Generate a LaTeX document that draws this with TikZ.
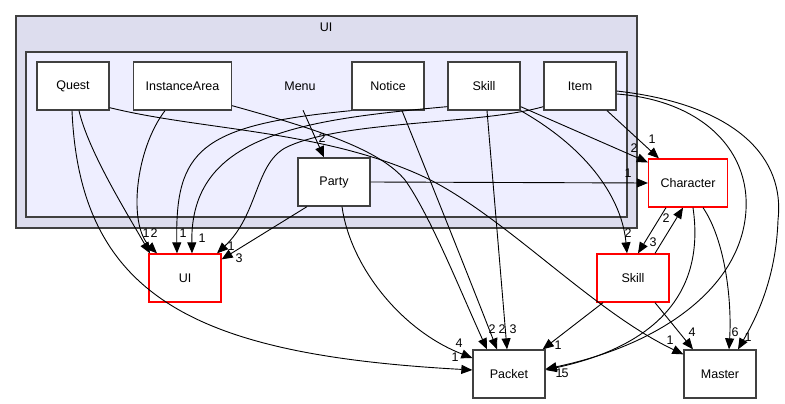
\documentclass[tikz,border=0pt]{standalone}
\usepackage{fontspec}
\setmainfont{Liberation Sans}
\usepackage{xcolor}
\usepackage{tikz}
\usetikzlibrary{arrows.meta, positioning, calc}

\definecolor{outerfill}{HTML}{DDDDEE}
\definecolor{innerfill}{HTML}{EEEEFF}
\definecolor{boxgray}{HTML}{404040}

\begin{document}
\begin{tikzpicture}[x=1pt, y=-1pt,
    font=\fontsize{12.5}{14}\selectfont,
    dirbox/.style={draw=boxgray, line width=1.3pt, fill=white, minimum width=72pt, minimum height=48pt, inner xsep=12pt},
    extbox/.style={dirbox, draw=red},
    dep/.style={line width=0.9pt, -{Triangle[length=11pt, width=9pt]}},
    cnt/.style={inner sep=0pt}]
    \useasboundingbox (0,0) rectangle (785,404);

    % Folder frames
    \draw[draw=boxgray, line width=1.6pt, fill=outerfill] (16,16) rectangle (637,228);
    \node at (326,27) {UI};
    \draw[draw=boxgray, line width=1.4pt, fill=innerfill] (26,52) rectangle (627,217);

    % Sub directories
    \node[cnt, minimum height=48pt] (menu) at (300,86) {Menu};
    \foreach \nm/\txt/\xc in {quest/Quest/73, inst/InstanceArea/182.5, notice/Notice/388, mskill/Skill/484, item/Item/580}
        \node[dirbox] (\nm) at (\xc,86) {\txt};
    \node[dirbox] (party) at (334,182) {Party};

    % Outside directories
    \node[extbox] (chara) at (688,183) {Character};
    \node[extbox] (ui) at (185,278) {UI};
    \node[extbox] (skill) at (633,278) {Skill};
    \node[dirbox] (packet) at (509,374) {Packet};
    \node[dirbox] (master) at (720,374) {Master};

    % Menu and Party
    \draw[dep] ([xshift=3pt]menu.south) -- ([xshift=-10pt]party.north);
    \draw[dep] (party.east) -- (chara.west);
    \draw[dep] ([xshift=-27pt]party.south) -- ([yshift=-6pt]ui.north east);
    \draw[dep] ([xshift=8pt]party.south) .. controls (350,265) and (400,330) .. ([yshift=16pt]packet.west);

    % Quest
    \draw[dep] ([xshift=6pt]quest.south) .. controls (88,150) and (125,210) .. ([xshift=-35pt]ui.north);
    \draw[dep] ([xshift=-1pt]quest.south) .. controls (80,300) and (200,355) .. ([yshift=4pt]packet.west);
    \draw[dep] ([yshift=3pt]quest.south east) .. controls (200,130) and (320,130) .. (420,175)
        .. controls (500,211) and (590,310) .. ([yshift=-5pt]master.north west);

    % InstanceArea
    \draw[dep] ([xshift=-17.5pt]inst.south) .. controls (135,150) and (128,225) .. ([xshift=-28pt]ui.north);
    \draw[dep] ([yshift=5pt]inst.south east) .. controls (320,130) and (380,150) .. (405,180)
        .. controls (430,215) and (460,290) .. ([xshift=-22pt]packet.north);

    % Notice
    \draw[dep] (notice.south west) .. controls (200,125) and (175,150) .. ([xshift=-8pt]ui.north);
    \draw[dep] ([xshift=14pt]notice.south) .. controls (430,180) and (470,280) .. ([xshift=-12pt]packet.north);

    % Skill inside Menu
    \draw[dep] ([yshift=4pt]mskill.south west) .. controls (300,120) and (190,135) .. ([xshift=7pt]ui.north);
    \draw[dep] ([xshift=3pt]mskill.south) -- ([xshift=-2pt]packet.north);
    \draw[dep] ([yshift=4pt]mskill.south east) -- ([yshift=-4pt]chara.north west);
    \draw[dep] (mskill.south east) .. controls (590,150) and (622,200) .. ([xshift=-6pt]skill.north);

    % Item
    \draw[dep] ([yshift=4pt]item.south west) .. controls (480,125) and (340,120) .. (285,148)
        .. controls (255,165) and (258,215) .. ([xshift=32pt]ui.north);
    \draw[dep] ([xshift=27pt]item.south) -- ([xshift=11pt]chara.north west);
    \draw[dep] ([yshift=-8pt]item.east) .. controls (700,100) and (755,150) .. (745,220)
        .. controls (735,290) and (660,345) .. ([yshift=5pt]packet.east);
    \draw[dep] ([yshift=-5pt]item.east) .. controls (740,105) and (785,160) .. (778,220)
        .. controls (776,280) and (755,320) .. ([xshift=18pt]master.north);

    % Character
    \draw[dep] ([xshift=-22pt]chara.south) -- ([xshift=5pt]skill.north);
    \draw[dep] ([xshift=5pt]chara.south) .. controls (705,290) and (660,345) .. ([yshift=4pt]packet.east);
    \draw[dep] ([xshift=15pt]chara.south) .. controls (725,240) and (732,300) .. ([xshift=9pt]master.north);

    % Skill outside
    \draw[dep] ([xshift=22pt]skill.north) -- ([xshift=-5pt]chara.south);
    \draw[dep] ([xshift=-30pt]skill.south) -- ([xshift=-3pt]packet.north east);
    \draw[dep] ([xshift=22pt]skill.south) -- ([xshift=-27pt]master.north);

    % Counts
    \foreach \xc/\yc/\n in {322/138/2, 628/173/1, 239/258/3, 459/343/4, 146/233/1, 154/233/2,
        183/233/1, 202/238/1, 231/246/1, 455/357/1, 670/340/1, 492/329/2, 502/329/2, 513/329/3,
        634/148/2, 628/233/2, 652/139/1, 559/373/1, 565/373/5, 748/337/1, 735/332/6,
        653/242/3, 666/218/2, 558/345/1, 692/332/4}
        \node[cnt] at (\xc,\yc) {\n};
\end{tikzpicture}
\end{document}
